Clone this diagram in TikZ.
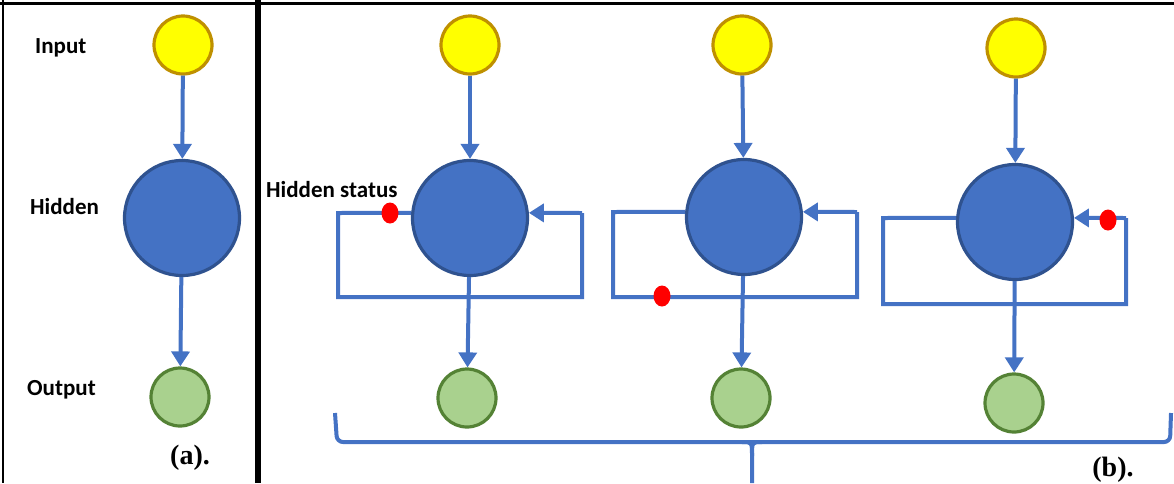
\documentclass[tikz,border=0pt]{standalone}
\usepackage{fontspec}
\setmainfont{Liberation Serif}
\newfontfamily\lblfont{Carlito}
\usepackage[HTML]{xcolor}
\usepackage{tikz}
\usetikzlibrary{positioning, arrows.meta, shapes.geometric}

\definecolor{inyellow}{HTML}{FFFF00}
\definecolor{inborder}{HTML}{BF9000}
\definecolor{hidblue}{HTML}{4472C4}
\definecolor{hidborder}{HTML}{2F528F}
\definecolor{outgreen}{HTML}{A9D18E}
\definecolor{outborder}{HTML}{548235}

\tikzset{
  inpnode/.style={circle, draw=inborder, fill=inyellow, line width=3.2pt, minimum size=58pt, inner sep=0pt},
  hidnode/.style={circle, draw=hidborder, fill=hidblue, line width=3.2pt, minimum size=115pt, inner sep=0pt},
  outnode/.style={circle, draw=outborder, fill=outgreen, line width=3.2pt, minimum size=58pt, inner sep=0pt},
  statedot/.style={ellipse, fill=red, minimum width=17pt, minimum height=21pt, inner sep=0pt},
  link/.style={draw=hidblue, line width=4pt, -{Triangle[width=18pt,length=15pt]}},
  loopline/.style={draw=hidblue, line width=4pt},
  layername/.style={font=\lblfont\bfseries\fontsize{23}{26}\selectfont, anchor=west, inner sep=0pt},
  tag/.style={font=\bfseries\fontsize{28}{30}\selectfont, inner sep=0pt}
}

\begin{document}
\begin{tikzpicture}[x=1pt, y=-1pt]
\useasboundingbox (0,0) rectangle (1174,483);

% frame and divider
\draw[line width=3pt] (0,3) -- (1174,3);
\draw[line width=2.5pt] (3,0) -- (3,483);
\draw[line width=5.5pt] (258,0) -- (258,483);

% (a) plain network
\node[layername] (tin) at (35,48) {Input};
\node[layername] (thid) at (30,207) {Hidden};
\node[layername] (tout) at (27,390) {Output};

\node[inpnode] (ia) at (183,45) {};
\node[hidnode] (ha) at (182,218) {};
\node[outnode] (oa) at (180,397) {};
\draw[link] (ia) -- (ha);
\draw[link] (ha) -- (oa);
\node[tag] (capa) at (190,458) {(a).};

% (b) recurrent steps
\node[inpnode] (i1) at (470,45) {};
\node[inpnode] (i2) at (742,45) {};
\node[inpnode] (i3) at (1016,48) {};

\node[hidnode] (h1) at (470,218) {};
\node[hidnode] (h2) at (744,217) {};
\node[hidnode] (h3) at (1015,222) {};

\node[outnode] (o1) at (467,398) {};
\node[outnode] (o2) at (741,398) {};
\node[outnode] (o3) at (1014,403) {};

\foreach \k in {1,2,3} {
  \draw[link] (i\k) -- (h\k);
  \draw[link] (h\k) -- (o\k);
}

% feedback loops
\coordinate (l1a) at (338,213); \coordinate (l1b) at (338,297);
\coordinate (r1b) at (582,297); \coordinate (r1a) at (582,213);
\coordinate (l2a) at (613,212); \coordinate (l2b) at (613,297);
\coordinate (r2b) at (857,297); \coordinate (r2a) at (857,212);
\coordinate (l3a) at (883,218); \coordinate (l3b) at (883,304);
\coordinate (r3b) at (1126,304); \coordinate (r3a) at (1126,218);

\draw[loopline] (h1.175) -- (l1a) -- (l1b) -- (r1b) -- (r1a);
\draw[link] (r1a) -- (h1.5);
\draw[loopline] (h2.175) -- (l2a) -- (l2b) -- (r2b) -- (r2a);
\draw[link] (r2a) -- (h2.5);
\draw[loopline] (h3.176) -- (l3a) -- (l3b) -- (r3b) -- (r3a);
\draw[link] (r3a) -- (h3.4);

% hidden state markers
\node[statedot] (s1) at (390,213) {};
\node[statedot] (s2) at (662,296) {};
\node[statedot] (s3) at (1108,220) {};
\node[layername] (tstat) at (266,190) {Hidden status};

% brace under the steps
\draw[loopline, rounded corners=6pt] (335,413) -- (337,442) -- (1170,442) -- (1171,413);
\draw[loopline] (742,442) .. controls (752,442) .. (752,456) -- (752,483);
\draw[loopline] (762,442) .. controls (752,442) .. (752,456);
\node[tag] (capb) at (1113,470) {(b).};

\end{tikzpicture}
\end{document}
